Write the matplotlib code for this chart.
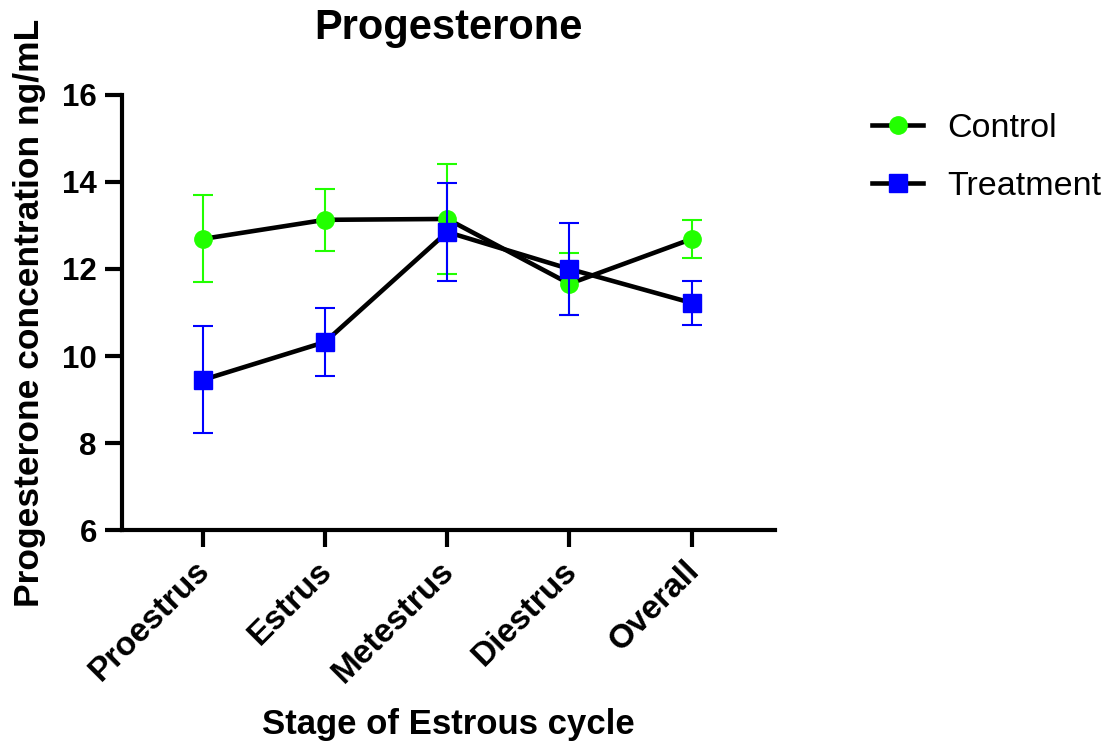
import matplotlib
matplotlib.use("Agg")
import matplotlib.pyplot as plt
import matplotlib.transforms as mtransforms

plt.rcParams['font.family'] = ['Liberation Sans', 'DejaVu Sans']

stages = ["Proestrus", "Estrus", "Metestrus", "Diestrus", "Overall"]
control_mean = [12.69, 13.13, 13.15, 11.66, 12.69]
control_sem = [1.00, 0.71, 1.26, 0.71, 0.44]
treatment_mean = [9.45, 10.32, 12.85, 12.00, 11.22]
treatment_sem = [1.23, 0.79, 1.13, 1.05, 0.51]

green = "#22FF00"
blue = "#0000FF"

fig = plt.figure(figsize=(11.13, 7.46), dpi=100)
ax = fig.add_axes([0.1096, 0.2895, 0.5866, 0.5832])

x = list(range(len(stages)))

ax.errorbar(x, control_mean, yerr=control_sem, fmt='none', ecolor=green,
            elinewidth=1.5, capsize=7, capthick=1.5, zorder=2)
ax.plot(x, control_mean, color='black', lw=3.3, marker='o', ms=12.5,
        mfc=green, mec=green, label="Control", zorder=3)
ax.errorbar(x, treatment_mean, yerr=treatment_sem, fmt='none', ecolor=blue,
            elinewidth=1.5, capsize=7, capthick=1.5, zorder=4)
ax.plot(x, treatment_mean, color='black', lw=3.3, marker='s', ms=13,
        mfc=blue, mec=blue, label="Treatment", zorder=5)

ax.set_xlim(-0.66, 4.68)
ax.set_ylim(6, 16)
ax.set_yticks([6, 8, 10, 12, 14, 16])
ax.set_xticks(x)
ax.set_xticklabels(stages, rotation=45, ha='right', rotation_mode='anchor')

for s in ['top', 'right']:
    ax.spines[s].set_visible(False)
for s in ['left', 'bottom']:
    ax.spines[s].set_linewidth(3)

ax.tick_params(axis='both', width=3, length=12, pad=6)
ax.tick_params(axis='x', labelsize=24)
ax.tick_params(axis='y', labelsize=22.5)
# nudge rotated labels a bit left like the original
shift = mtransforms.ScaledTranslation(-6 / 72, 0, fig.dpi_scale_trans)
for lab in ax.get_xticklabels():
    lab.set_transform(lab.get_transform() + shift)
for lab in ax.get_xticklabels() + ax.get_yticklabels():
    lab.set_fontweight('bold')

ax.set_title("Progesterone", fontsize=30, fontweight='bold', pad=40)
ax.set_ylabel("Progesterone concentration ng/mL", fontsize=25.5, fontweight='bold', labelpad=12)
ax.set_xlabel("Stage of Estrous cycle", fontsize=25, fontweight='bold', labelpad=14)

fig.legend(loc='upper left', bbox_to_anchor=(0.756, 0.89), frameon=False,
           fontsize=24.5, handlelength=1.5, handletextpad=0.7, labelspacing=0.8)

fig.savefig("out.png", dpi=100)
